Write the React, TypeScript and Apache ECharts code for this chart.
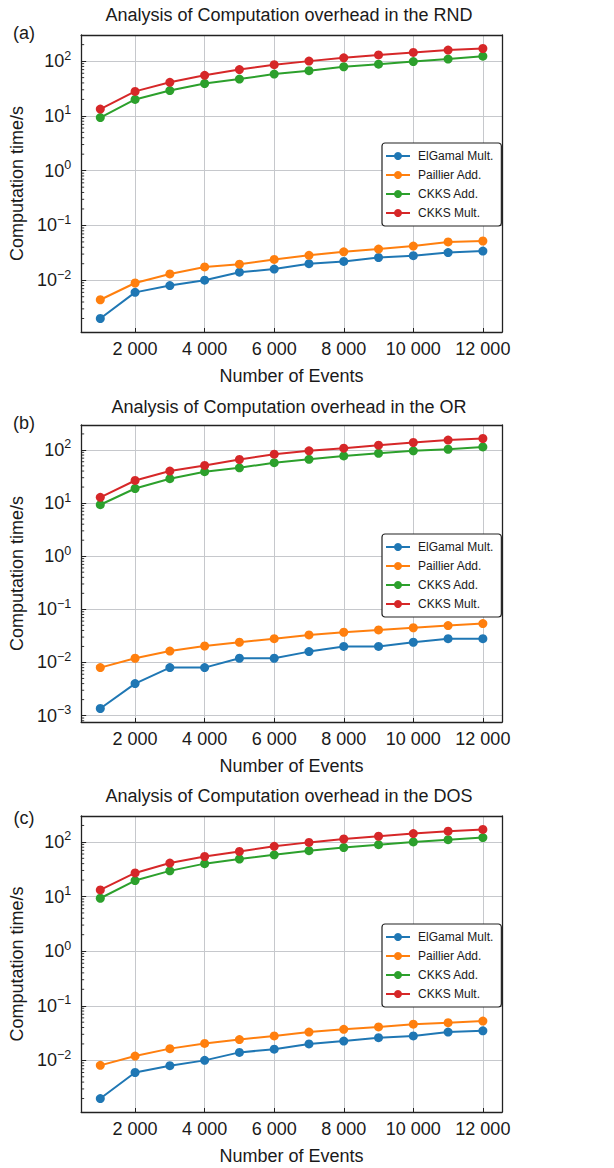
import React, { useEffect, useRef } from "react";
import * as echarts from "echarts";

const EVENTS = [1000, 2000, 3000, 4000, 5000, 6000, 7000, 8000, 9000, 10000, 11000, 12000];
const SERIES_NAMES = ["ElGamal Mult.", "Paillier Add.", "CKKS Add.", "CKKS Mult."];
const COLORS = ["#1f77b4", "#ff7f0e", "#2ca02c", "#d62728"];
const PANEL_TITLES = [
  "Analysis of Computation overhead in the RND",
  "Analysis of Computation overhead in the OR",
  "Analysis of Computation overhead in the DOS",
];
const PANEL_TAGS = ["(a)", "(b)", "(c)"];
const X_LABEL = "Number of Events";
const Y_LABEL = "Computation time/s";

// (a) RND
const RND_ELGAMAL = [0.002, 0.006, 0.008, 0.01, 0.014, 0.016, 0.02, 0.022, 0.026, 0.028, 0.032, 0.034];
const RND_PAILLIER = [0.0044, 0.0089, 0.013, 0.0175, 0.0196, 0.024, 0.0285, 0.033, 0.037, 0.042, 0.05, 0.052];
const RND_CKKS_ADD = [9.3, 20, 29, 39, 47, 58, 67, 79, 88, 98, 109, 123];
const RND_CKKS_MULT = [13.3, 28, 41, 55, 70, 86, 100, 115, 130, 144, 159, 170];

// (b) OR
const OR_ELGAMAL = [0.00136, 0.004, 0.008, 0.008, 0.012, 0.012, 0.016, 0.02, 0.02, 0.024, 0.028, 0.028];
const OR_PAILLIER = [0.008, 0.012, 0.0164, 0.0204, 0.024, 0.028, 0.033, 0.037, 0.041, 0.045, 0.0495, 0.054];
const OR_CKKS_ADD = [9.3, 18.8, 28.7, 38.9, 46, 57.6, 66.6, 77, 86.5, 96, 103, 114];
const OR_CKKS_MULT = [12.8, 26.6, 40, 51, 66, 83, 96, 108, 123, 138, 153, 164];

// (c) DOS
const DOS_ELGAMAL = [0.002, 0.006, 0.008, 0.01, 0.014, 0.016, 0.02, 0.0226, 0.026, 0.028, 0.033, 0.0347];
const DOS_PAILLIER = [0.0081, 0.012, 0.0164, 0.0204, 0.024, 0.028, 0.033, 0.037, 0.041, 0.046, 0.049, 0.0525];
const DOS_CKKS_ADD = [9.3, 19.6, 29.5, 40, 48.6, 58, 69, 79, 89, 100, 110, 120];
const DOS_CKKS_MULT = [13.2, 27, 41, 54, 67, 83, 98, 113, 127, 142, 157, 169];

const PANELS = [
  [RND_ELGAMAL, RND_PAILLIER, RND_CKKS_ADD, RND_CKKS_MULT],
  [OR_ELGAMAL, OR_PAILLIER, OR_CKKS_ADD, OR_CKKS_MULT],
  [DOS_ELGAMAL, DOS_PAILLIER, DOS_CKKS_ADD, DOS_CKKS_MULT],
];

const MINOR_MANTISSAS = [2, 3, 4, 5, 6, 7, 8, 9];
const MINOR_DECADES = [-4, -3, -2, -1, 0, 1, 2];

const FONT = '"Liberation Sans", Arial, Helvetica, sans-serif';
const TEXT_COLOR = "#1a1a1a";
const FRAME = "#222222";
const GRID_COLOR = "#c6c8cc";

// layout
const GRID_LEFT = 76;
const GRID_WIDTH = 426;
const GRID_TOPS = [35, 425, 816];
const GRID_HEIGHTS = [297, 297, 296];
const TITLE_YS = [15, 407, 796];
const TAG_YS = [33, 423, 818];
const LEGEND_TOPS = [143, 534, 924];

const X_MIN = 450;
const X_MAX = 12550;

function formatThousands(v: number): string {
  return String(v).replace(/\B(?=(\d{3})+(?!\d))/g, " ");
}

function logExtent(series: number[][]): [number, number] {
  let lo = Infinity;
  let hi = -Infinity;
  series.forEach((s) =>
    s.forEach((v) => {
      lo = Math.min(lo, Math.log10(v));
      hi = Math.max(hi, Math.log10(v));
    })
  );
  const m = (hi - lo) * 0.05;
  return [lo - m, hi + m];
}

const frameLine = { show: true, onZero: false, lineStyle: { color: FRAME, width: 1.3 } };

export default function App() {
  const ref = useRef<HTMLDivElement>(null);

  useEffect(() => {
    if (!ref.current) return;
    const chart = echarts.init(ref.current, undefined, { renderer: "svg" });

    const grids: any[] = [];
    const xAxes: any[] = [];
    const yAxes: any[] = [];
    const xFrame: any[] = [];
    const yFrame: any[] = [];
    const series: any[] = [];
    const legends: any[] = [];
    const graphics: any[] = [];

    PANELS.forEach((panel, i) => {
      const [lo, hi] = logExtent(panel);
      const yMin = Math.pow(10, lo);
      const yMax = Math.pow(10, hi);

      grids.push({
        left: GRID_LEFT,
        top: GRID_TOPS[i],
        width: GRID_WIDTH,
        height: GRID_HEIGHTS[i],
        show: false,
        containLabel: false,
      });

      xAxes.push({
        type: "value",
        gridIndex: i,
        position: "bottom",
        min: X_MIN,
        max: X_MAX,
        splitNumber: 5,
        minInterval: 2000,
        maxInterval: 2000,
        axisLine: frameLine,
        axisTick: { show: true, inside: true, length: 4, lineStyle: { color: FRAME, width: 1 } },
        splitLine: { show: true, lineStyle: { color: GRID_COLOR, width: 1 } },
        axisLabel: {
          margin: 8,
          fontSize: 18,
          color: TEXT_COLOR,
          fontFamily: FONT,
          formatter: (v: number) => (v % 2000 === 0 ? formatThousands(v) : ""),
        },
        name: X_LABEL,
        nameLocation: "middle",
        nameGap: 35,
        nameTextStyle: { fontSize: 18, color: TEXT_COLOR, fontFamily: FONT },
      });
      xFrame.push({
        type: "value",
        gridIndex: i,
        position: "top",
        min: X_MIN,
        max: X_MAX,
        axisLine: frameLine,
        axisTick: { show: false },
        axisLabel: { show: false },
        splitLine: { show: false },
      });

      yAxes.push({
        type: "log",
        logBase: 10,
        gridIndex: i,
        position: "left",
        min: yMin,
        max: yMax,
        axisLine: frameLine,
        axisTick: { show: true, inside: true, length: 5, lineStyle: { color: FRAME, width: 1 } },
        splitLine: { show: true, lineStyle: { color: GRID_COLOR, width: 1 } },
        axisLabel: {
          margin: 10,
          color: TEXT_COLOR,
          fontFamily: FONT,
          formatter: (v: number) => {
            const e = Math.log10(v);
            const r = Math.round(e);
            if (Math.abs(e - r) > 1e-6) return "";
            const exp = r < 0 ? "\u2212" + Math.abs(r) : String(r);
            return "{b|10}{s|" + exp + "}";
          },
          rich: {
            b: { fontSize: 18, lineHeight: 24, color: TEXT_COLOR, fontFamily: FONT },
            s: { fontSize: 12.5, lineHeight: 12, verticalAlign: "top", color: TEXT_COLOR, fontFamily: FONT },
          },
        },
        name: Y_LABEL,
        nameLocation: "middle",
        nameGap: 47,
        nameTextStyle: { fontSize: 18, color: TEXT_COLOR, fontFamily: FONT },
      });
      yFrame.push({
        type: "log",
        logBase: 10,
        gridIndex: i,
        position: "right",
        min: yMin,
        max: yMax,
        axisLine: frameLine,
        axisTick: { show: false },
        axisLabel: { show: false },
        splitLine: { show: false },
      });

      panel.forEach((vals, k) => {
        series.push({
          type: "line",
          name: SERIES_NAMES[k],
          xAxisIndex: i,
          yAxisIndex: i,
          data: EVENTS.map((x, j) => [x, vals[j]]),
          symbol: "circle",
          symbolSize: 9,
          showSymbol: true,
          color: COLORS[k],
          itemStyle: { color: COLORS[k] },
          lineStyle: { color: COLORS[k], width: 2 },
          emphasis: { disabled: true },
          z: 3 + k,
        });
      });

      // minor ticks on left axis (at 2..9 x 10^n, like matplotlib)
      const minorVals: number[][] = [];
      MINOR_DECADES.forEach((d) =>
        MINOR_MANTISSAS.forEach((m) => {
          const v = m * Math.pow(10, d);
          if (v > yMin && v < yMax) minorVals.push([X_MIN, v]);
        })
      );
      series.push({
        type: "custom",
        name: "minor-ticks-" + i,
        xAxisIndex: i,
        yAxisIndex: i,
        silent: true,
        clip: false,
        z: 10,
        data: minorVals,
        renderItem: (params: any, api: any) => {
          const p = api.coord([api.value(0), api.value(1)]);
          return {
            type: "line",
            shape: { x1: p[0], y1: p[1], x2: p[0] + 3, y2: p[1] },
            style: { stroke: FRAME, lineWidth: 0.9 },
          };
        },
      });

      legends.push({
        orient: "vertical",
        left: 382,
        top: LEGEND_TOPS[i],
        data: SERIES_NAMES,
        itemWidth: 24,
        itemHeight: 10,
        itemGap: 7,
        padding: [7, 8, 7, 3],
        borderColor: FRAME,
        borderWidth: 1.2,
        borderRadius: 3,
        backgroundColor: "#ffffff",
        selectedMode: false,
        textStyle: { fontSize: 12, color: TEXT_COLOR, fontFamily: FONT, padding: [0, 0, 0, 3] },
      });

      graphics.push({
        type: "text",
        x: GRID_LEFT + GRID_WIDTH / 2,
        y: TITLE_YS[i],
        style: {
          text: PANEL_TITLES[i],
          fontSize: 18,
          fontFamily: FONT,
          fill: TEXT_COLOR,
          textAlign: "center",
          textVerticalAlign: "middle",
        },
      });
      graphics.push({
        type: "text",
        x: 24,
        y: TAG_YS[i],
        style: {
          text: PANEL_TAGS[i],
          fontSize: 18,
          fontFamily: FONT,
          fill: TEXT_COLOR,
          textAlign: "center",
          textVerticalAlign: "middle",
        },
      });
    });

    chart.setOption({
      animation: false,
      backgroundColor: "#ffffff",
      textStyle: { fontFamily: FONT },
      grid: grids,
      xAxis: xAxes.concat(xFrame),
      yAxis: yAxes.concat(yFrame),
      series,
      legend: legends,
      graphic: graphics,
      tooltip: { show: false },
    });

    return () => chart.dispose();
  }, []);

  return (
    <div
      ref={ref}
      style={{ position: "absolute", left: 0, top: 0, width: 614, height: 1168, background: "#fff" }}
    />
  );
}
